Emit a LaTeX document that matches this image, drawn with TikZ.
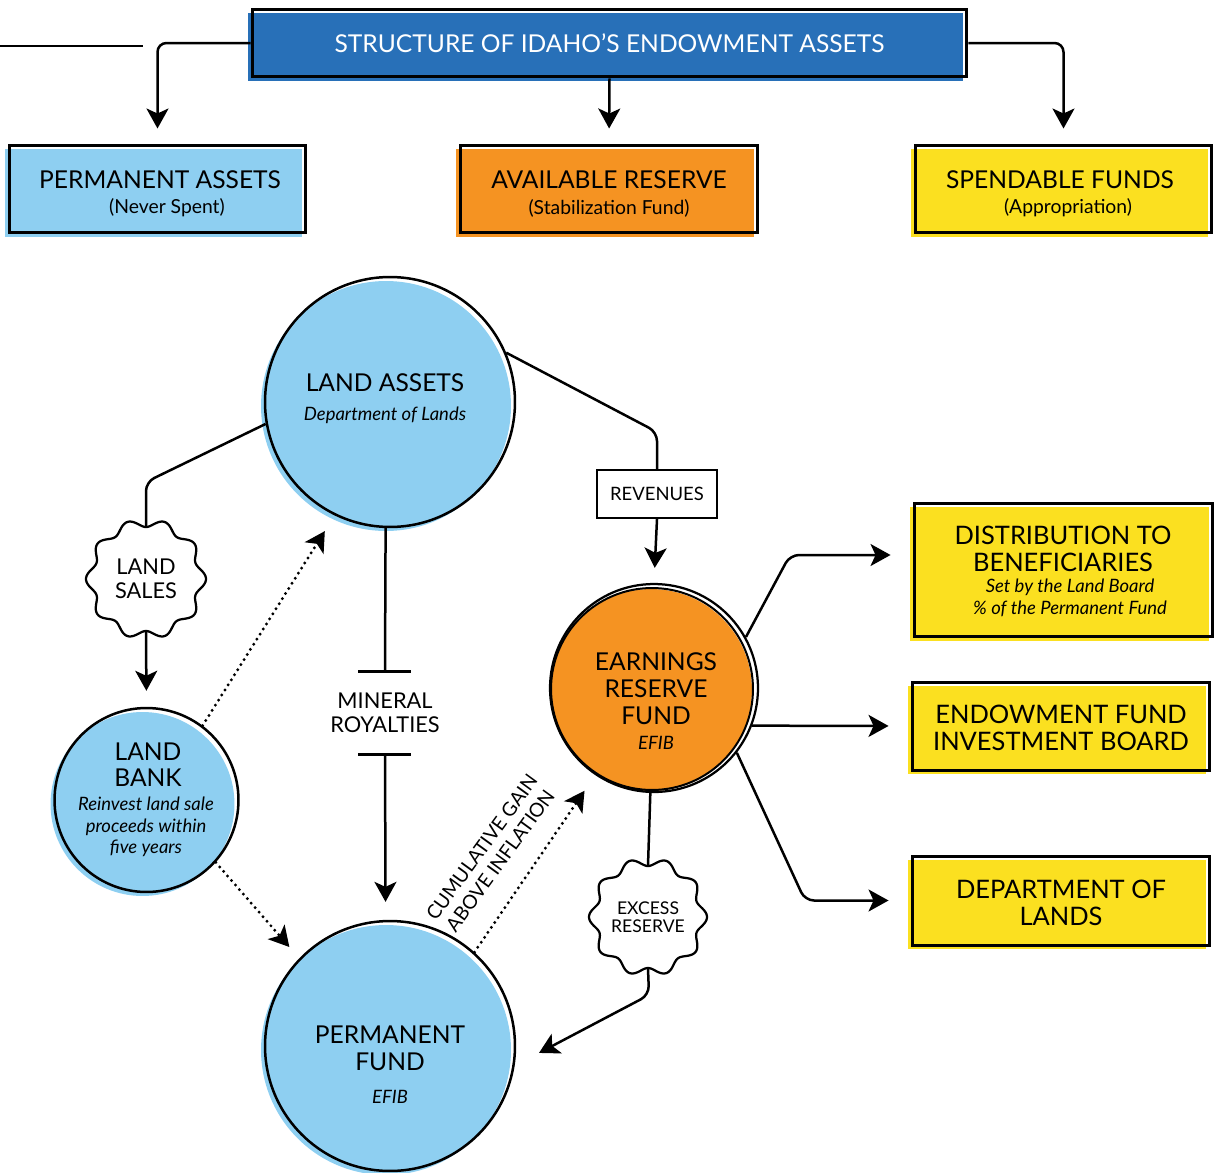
\documentclass[tikz,border=0pt]{standalone}
\usepackage{fontspec}
\setmainfont{Lato}
\usetikzlibrary{arrows.meta,shadows}
\definecolor{hdrblue}{HTML}{2870B8}
\definecolor{lblue}{HTML}{8ECFF1}
\definecolor{orng}{HTML}{F59322}
\definecolor{yel}{HTML}{FBE020}
\tikzset{
  misreg/.style={general shadow={fill=#1, shadow xshift=-0.08cm, shadow yshift=-0.08cm}},
  boxout/.style={draw=black, line width=0.06cm, rectangle, inner sep=0pt},
  circout/.style={draw=black, line width=0.05cm, circle, inner sep=0pt},
  conn/.style={line width=0.05cm, draw=black},
  arr/.style={conn, -{Stealth[length=0.4cm,width=0.44cm,inset=0.1cm]}},
  dotline/.style={line width=0.065cm, line cap=round, dash pattern=on 0pt off 0.12cm},
  wavy/.style={line width=0.045cm, draw=black, fill=white},
  ttl/.style={font=\fontsize{14}{15.3}\selectfont, align=center, inner sep=0pt},
  sub/.style={font=\fontsize{11}{12.5}\selectfont, align=center, inner sep=0pt},
  ital/.style={font=\fontsize{10.5}{12.2}\selectfont\itshape, align=center, inner sep=0pt},
  small/.style={font=\fontsize{12.4}{13.6}\selectfont, align=center, inner sep=0pt},
}
\begin{document}
\begin{tikzpicture}[x=0.02cm, y=-0.02cm]
\useasboundingbox (0,0) rectangle (1217,1173);

% ---------- header ----------
\node[boxout, misreg=hdrblue, minimum width=14.3cm, minimum height=1.36cm,
      text=white, font=\fontsize{14}{16}\selectfont] (title) at (609.5,43)
      {STRUCTURE OF IDAHO’S ENDOWMENT ASSETS};
\coordinate (lfree0) at (0,46);
\coordinate (lfree1) at (143,46);
\draw[conn] (lfree0) -- (lfree1);

% ---------- category boxes ----------
\node[boxout, misreg=lblue, minimum width=5.94cm, minimum height=1.76cm] (pa) at (157.5,189) {};
\node[boxout, misreg=orng, minimum width=5.96cm, minimum height=1.76cm] (ar) at (609,189) {};
\node[boxout, misreg=yel, minimum width=5.94cm, minimum height=1.76cm] (sf) at (1063.5,189) {};
\node[ttl] (pa-t) at (160,180) {PERMANENT ASSETS};
\node[sub] (pa-s) at (167,208) {(Never Spent)};
\node[ttl] (ar-t) at (609,180) {AVAILABLE RESERVE};
\node[sub] (ar-s) at (609,208) {(Stabilization Fund)};
\node[ttl] (sf-t) at (1060,180) {SPENDABLE FUNDS};
\node[sub] (sf-s) at (1068,208) {(Appropriation)};

\draw[arr, rounded corners=0.18cm, shorten >=0.3cm] (title.west) -| (pa.north);
\draw[arr, shorten >=0.3cm] (title.south) -- (ar.north);
\draw[arr, rounded corners=0.18cm, shorten >=0.3cm] (title.east) -| (sf.north);

% ---------- wavy shapes ----------
\draw[wavy] plot[domain=0:360, samples=241] ({146+(56+4*cos(10*\x))*cos(\x)}, {579-(56+4*cos(10*\x))*sin(\x)}) -- cycle;
\draw[wavy] plot[domain=0:360, samples=241] ({648+(55+4*cos(10*\x))*cos(\x)}, {917-(55+4*cos(10*\x))*sin(\x)}) -- cycle;
\node[circle, inner sep=0pt, minimum size=2.08cm, small] (ls) at (146,579) {LAND\\SALES};
\node[circle, inner sep=0pt, minimum size=2.04cm, font=\fontsize{10}{10.2}\selectfont, align=center] (er) at (648,917) {EXCESS\\RESERVE};

% ---------- circles ----------
\node[circout, misreg=lblue, minimum size=5cm] (la) at (390,402) {};
\node[ttl] (la-t) at (385,383) {LAND ASSETS};
\node[ital] (la-s) at (385,415) {Department of Lands};

\node[circout, misreg=lblue, minimum size=3.68cm] (lb) at (146.5,800) {};
\node[ttl, font=\fontsize{14}{14.7}\selectfont] (lb-t) at (148,765) {LAND\\BANK};
\node[ital] (lb-s) at (146,827) {Reinvest land sale\\proceeds within\\five years};

\node[circout, misreg=lblue, minimum size=5cm] (pf) at (390,1046) {};
\node[ttl] (pf-t) at (390,1048) {PERMANENT\\FUND};
\node[ital] (pf-s) at (390,1097) {EFIB};

\fill[orng] (651,690) circle[radius=2.02cm];
\draw[line width=0.04cm] (652,689) circle[radius=2.02cm];
\node[circout, line width=0.045cm, minimum size=4.16cm] (erf) at (654,688) {};
\node[ttl] (erf-t) at (656,689) {EARNINGS\\RESERVE\\FUND};
\node[ital] (erf-s) at (656,743) {EFIB};

% ---------- revenues, mineral royalties ----------
\node[draw=black, line width=0.045cm, minimum width=2.4cm, minimum height=0.96cm, inner sep=0pt,
      font=\fontsize{10.5}{12}\selectfont] (rev) at (657,494) {REVENUES};
\node[small, minimum height=1.64cm] (mr) at (385,713) {MINERAL\\ROYALTIES};

% ---------- right boxes ----------
\node[boxout, misreg=yel, minimum width=5.98cm, minimum height=2.68cm] (db) at (1063.5,570) {};
\node[ttl, font=\fontsize{14.5}{15.3}\selectfont] (db-t) at (1063,548.5) {DISTRIBUTION TO\\BENEFICIARIES};
\node[ital, font=\fontsize{10.5}{12.5}\selectfont\itshape] (db-s) at (1070,598) {Set by the Land Board\\\% of the Permanent Fund};

\node[boxout, misreg=yel, minimum width=5.96cm, minimum height=1.76cm] (efib) at (1061,726) {};
\node[ttl, font=\fontsize{14.5}{15.3}\selectfont] (efib-t) at (1061,727.5) {ENDOWMENT FUND\\INVESTMENT BOARD};

\node[boxout, misreg=yel, minimum width=5.96cm, minimum height=1.78cm] (dl) at (1061,900.5) {};
\node[ttl, font=\fontsize{14.5}{15.3}\selectfont] (dl-t) at (1061,902.5) {DEPARTMENT OF\\LANDS};

% ---------- connectors ----------
\coordinate (c1) at (146,482);
\draw[conn, rounded corners=0.18cm] (la.190.7) -- (c1) -- (ls.north);
\draw[arr, shorten >=0.32cm] (ls.south) -- (lb.north);

\draw[dotline, -{Stealth[length=0.4cm,width=0.44cm,inset=0.1cm]}, shorten >=0.37cm] (lb.53) -- (la.244);
\draw[dotline, -{Stealth[length=0.4cm,width=0.44cm,inset=0.1cm]}, shorten >=0.3cm] (lb.-42.3) -- (pf.136.1);

\draw[conn] (la.268) -- (mr.north);
\draw[conn] ([xshift=-0.54cm]mr.north) -- ([xshift=0.52cm]mr.north);
\draw[conn] ([xshift=-0.54cm]mr.south) -- ([xshift=0.52cm]mr.south);
\draw[arr, shorten >=0.36cm] (mr.south) -- (pf.92);

\coordinate (c2) at (657,432);
\draw[conn, rounded corners=0.18cm] (la.23.5) -- (c2) -- (rev.north);
\draw[arr, shorten >=0.3cm] (rev.south) -- (erf.north);

\coordinate (c3) at (790,555);
\draw[arr, rounded corners=0.18cm, shorten >=0.44cm] (erf.29.3) -- (c3) -- (c3 -| db.west);
\draw[arr, shorten >=0.44cm] (erf.-21.6) -- (efib.west);
\coordinate (c4) at (805,900.5);
\draw[arr, rounded corners=0.18cm, shorten >=0.44cm] (erf.-38.5) -- (c4) -- (dl.west);

\draw[conn] (erf.268) -- (er.north);
\coordinate (c5) at (649,995);
\draw[arr, rounded corners=0.18cm, shorten >=0.55cm] (er.south) -- (c5) -- (pf.-9.2);

\draw[dotline, -{Stealth[length=0.4cm,width=0.44cm,inset=0.1cm]}, shorten >=0.38cm] (pf.48.8) -- (erf.236);
\node[font=\fontsize{11}{13}\selectfont, align=center, rotate=54, inner sep=0pt] (cum) at (491,854) {CUMULATIVE GAIN\\ABOVE INFLATION};
\end{tikzpicture}
\end{document}
